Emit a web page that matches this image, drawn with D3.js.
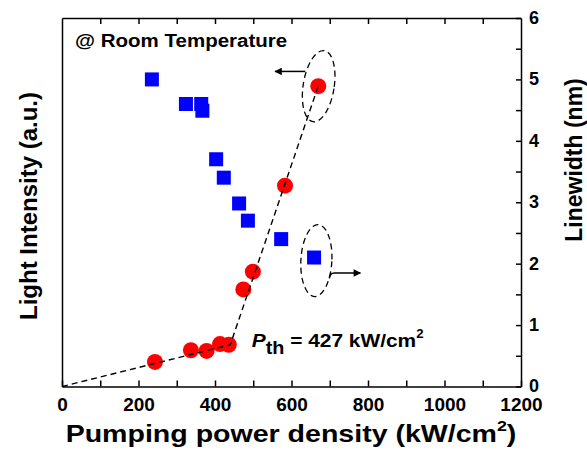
<!DOCTYPE html>
<html>
<head>
<meta charset="utf-8">
<script src="https://cdn.jsdelivr.net/npm/d3@7"></script>
<style>
  body { margin: 0; background: #fff; }
  svg text { font-family: "Liberation Sans", Arial, sans-serif; font-weight: bold; fill: #000; }
  .tick text { font-size: 19px; }
  .y-right .tick text { font-size: 18px; }
</style>
</head>
<body>
<div id="chart"></div>
<script>
// linewidth (right axis), blue squares
const pumpSquares = [235, 324, 364, 367, 403, 423, 463, 486, 573, 659];
const linewidth = [5.0, 4.6, 4.6, 4.49, 3.70, 3.40, 2.98, 2.70, 2.40, 2.10];

// light intensity (left axis, arbitrary units), red circles
const pumpCircles = [243, 337, 378, 413, 436, 474, 499, 583, 670];
const intensity = [0.40, 0.59, 0.58, 0.69, 0.68, 1.58, 1.87, 3.27, 4.89];

// dashed threshold fit
const fitPump = [0, 440, 672];
const fitIntensity = [0, 0.68, 4.93];

const xTicks = d3.range(0, 1201, 100);
const yTicks = d3.range(0, 6.01, 0.5);

const margin = {top: 18, right: 66, bottom: 64.5, left: 62};
const width = 587 - margin.left - margin.right;
const height = 451 - margin.top - margin.bottom;

const svg = d3.select('#chart')
    .append('svg')
    .attr('width', 587)
    .attr('height', 451);

const g = svg.append('g')
    .attr('transform', 'translate(' + margin.left + ',' + margin.top + ')');

const x = d3.scaleLinear().domain([0, 1200]).range([0, width]);
const yR = d3.scaleLinear().domain([0, 6]).range([height, 0]);
const yL = d3.scaleLinear().domain([0, 6]).range([height, 0]);

// axes, ticks pointing inward
g.append('g')
    .attr('class', 'x-axis')
    .attr('transform', 'translate(0,' + height + ')')
    .call(d3.axisBottom(x).tickValues(xTicks).tickSize(-6).tickSizeOuter(0).tickPadding(11.5)
        .tickFormat(d => d % 200 === 0 ? d : ''));

g.append('g')
    .attr('class', 'x-top')
    .call(d3.axisTop(x).tickValues(xTicks.slice(1, -1)).tickSize(-6).tickSizeOuter(0).tickFormat(''));

g.append('g')
    .attr('class', 'y-right')
    .attr('transform', 'translate(' + width + ',0)')
    .call(d3.axisRight(yR).tickValues(yTicks).tickSize(-5).tickSizeOuter(0).tickPadding(8)
        .tickFormat(d => Number.isInteger(d) ? d : ''));

g.append('g')
    .attr('class', 'y-left')
    .call(d3.axisLeft(yL).tickValues([]).tickSizeOuter(0));

g.selectAll('.domain, .tick line').attr('stroke', '#000').attr('stroke-width', 1.5);
g.selectAll('.y-right .tick text').attr('dy', '0.3em');
svg.selectAll('g').attr('font-family', null).attr('font-size', null);

// dashed fit line
const fit = fitPump.map((p, i) => [p, fitIntensity[i]]);
const fitLine = d3.line().x(d => x(d[0])).y(d => yL(d[1]));

// circles
g.selectAll('.dot')
    .data(pumpCircles)
    .enter()
    .append('circle')
    .attr('class', 'dot')
    .attr('cx', d => x(d))
    .attr('cy', (d, i) => yL(intensity[i]))
    .attr('r', 8)
    .attr('fill', '#ff0000');

// line goes over the circles
g.append('path')
    .datum(fit)
    .attr('fill', 'none')
    .attr('stroke', '#000')
    .attr('stroke-width', 1.4)
    .attr('stroke-dasharray', '6,4')
    .attr('d', fitLine);

// squares
const sq = 14;
g.selectAll('.sq')
    .data(pumpSquares)
    .enter()
    .append('rect')
    .attr('class', 'sq')
    .attr('x', d => x(d) - sq / 2)
    .attr('y', (d, i) => yR(linewidth[i]) - sq / 2)
    .attr('width', sq)
    .attr('height', sq)
    .attr('fill', '#0000ff');

// ellipses marking which axis each series uses
function ring(cx, cy, rot) {
    g.append('ellipse')
        .attr('transform', 'translate(' + cx + ',' + cy + ') rotate(' + rot + ')')
        .attr('rx', 15.5)
        .attr('ry', 36)
        .attr('fill', 'none')
        .attr('stroke', '#000')
        .attr('stroke-width', 1.3)
        .attr('stroke-dasharray', '6,4');
}
ring(x(671), yL(4.89), 9);
ring(x(665), yR(2.05), 3);

svg.append('defs').append('marker')
    .attr('id', 'head')
    .attr('viewBox', '0 0 10 10')
    .attr('refX', 9)
    .attr('refY', 5)
    .attr('markerWidth', 6)
    .attr('markerHeight', 5)
    .attr('orient', 'auto')
    .append('path')
    .attr('d', 'M0,0L10,5L0,10z')
    .attr('fill', '#000');

g.append('path')
    .attr('d', 'M' + x(636) + ',' + yL(5.13) + 'H' + x(557))
    .attr('stroke', '#000')
    .attr('stroke-width', 1.5)
    .attr('marker-end', 'url(#head)');

g.append('path')
    .attr('d', 'M' + x(699) + ',' + yR(1.76) + 'Q' + x(700) + ',' + yR(1.85) + ' ' + x(712) + ',' + yR(1.85) + 'H' + x(780))
    .attr('fill', 'none')
    .attr('stroke', '#000')
    .attr('stroke-width', 1.5)
    .attr('marker-end', 'url(#head)');

// texts
svg.append('text')
    .attr('transform', 'translate(75,46.7) scale(1.08,1)')
    .style('font-size', '19px')
    .text('@ Room Temperature');

const pth = svg.append('text')
    .attr('transform', 'translate(251.7,346.7) scale(1.1,1)')
    .style('font-size', '19px');
pth.append('tspan').style('font-style', 'italic').text('P');
pth.append('tspan').attr('dy', 7).style('font-size', '18px').text('th');
pth.append('tspan').attr('dy', -7).text(' = 427 kW/cm');
pth.append('tspan').attr('dy', -9).style('font-size', '12px').text('2');

const xt = svg.append('text')
    .attr('transform', 'translate(291,442) scale(1.19,1)')
    .attr('text-anchor', 'middle')
    .style('font-size', '24px');
xt.append('tspan').text('Pumping power density (kW/cm');
xt.append('tspan').attr('dy', -11).style('font-size', '15px').text('2');
xt.append('tspan').attr('dy', 11).text(')');

svg.append('text')
    .attr('transform', 'translate(37,206) rotate(-90)')
    .attr('text-anchor', 'middle')
    .style('font-size', '24px')
    .text('Light Intensity (a.u.)');

svg.append('text')
    .attr('transform', 'translate(582,160) rotate(-90)')
    .attr('text-anchor', 'middle')
    .style('font-size', '23px')
    .text('Linewidth (nm)');
</script>
</body>
</html>
